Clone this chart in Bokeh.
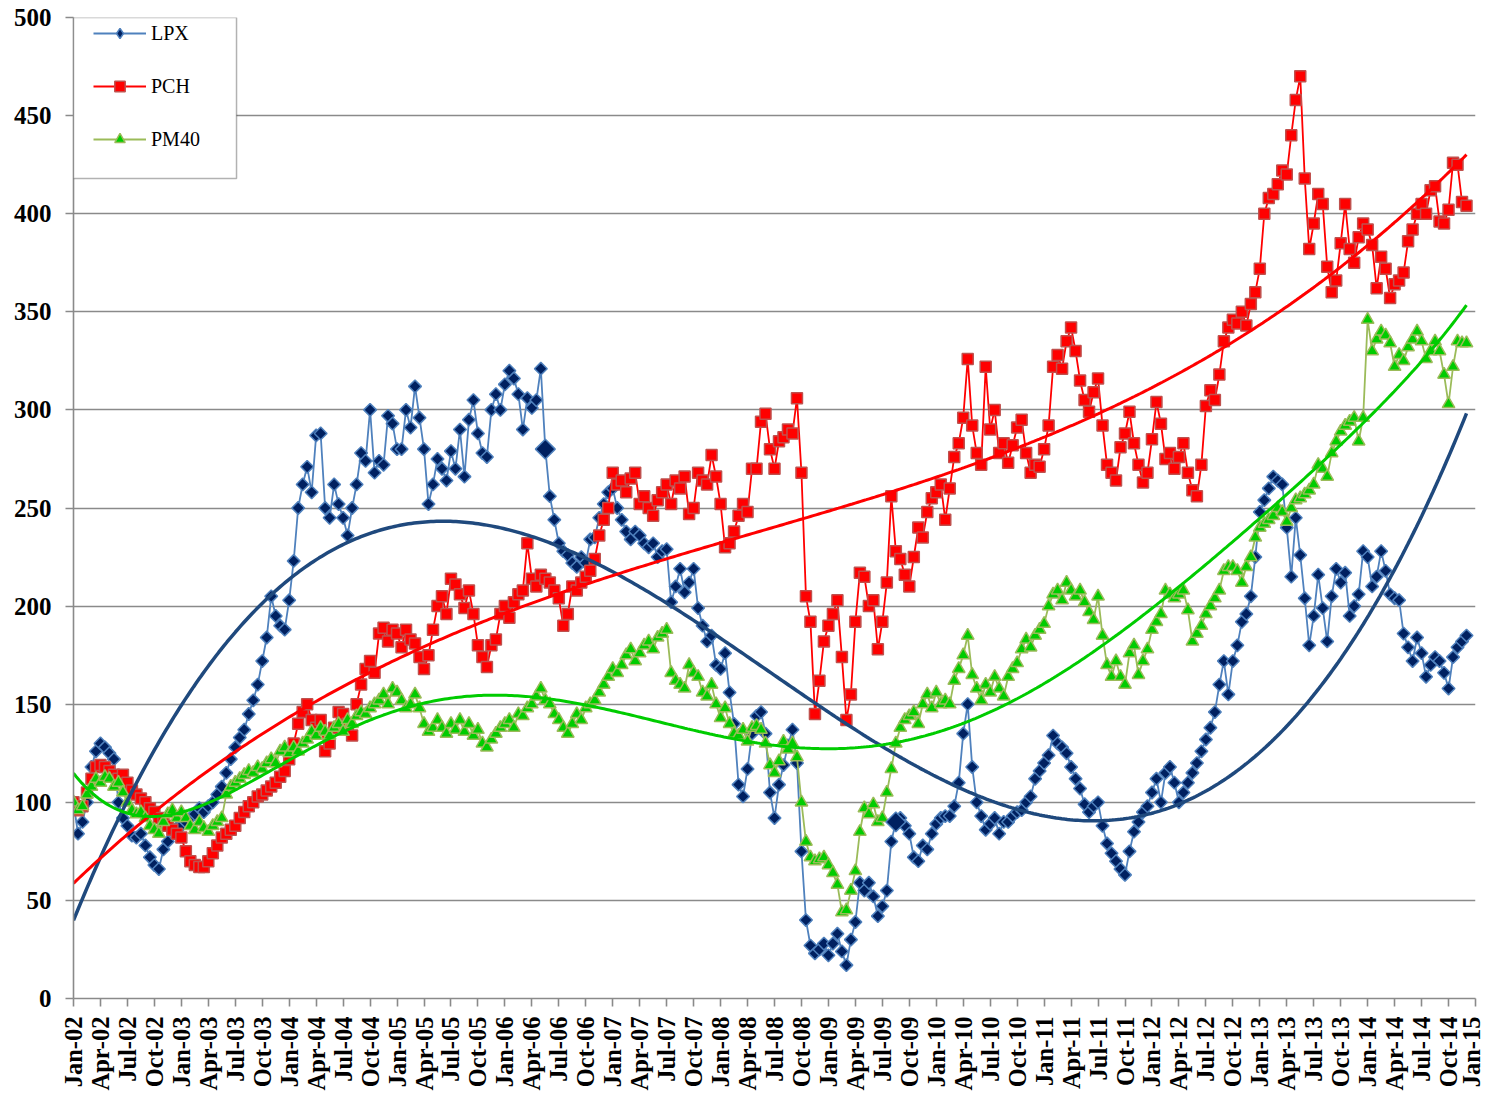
import math
import numpy as np
from bokeh.plotting import figure
from bokeh.models import (FixedTicker, Legend, LegendItem, BoxAnnotation,
                          ColumnDataSource, Range1d)
from bokeh.embed import file_html
from bokeh.resources import INLINE

# ---------------- data: semi-monthly readings, Jan-2002 .. Dec-2014 ----------------
lpx_2002 = [100, 84, 90, 100, 118, 126, 130, 128, 125, 122, 100, 92, 88, 83, 82, 84, 78, 72, 68, 66, 76, 80, 86, 87]
lpx_2003 = [88, 90, 92, 94, 97, 95, 98, 100, 104, 108, 115, 122, 128, 133, 137, 145, 152, 160, 172, 184, 205, 195, 190, 188]
lpx_2004 = [203, 223, 250, 262, 271, 258, 287, 288, 250, 245, 262, 252, 245, 236, 250, 262, 278, 274, 300, 268, 274, 272, 297, 293]
lpx_2005 = [280, 280, 300, 291, 312, 296, 280, 252, 262, 275, 270, 264, 279, 270, 290, 266, 295, 305, 288, 278, 276, 300, 308, 300]
lpx_2006 = [313, 320, 316, 308, 290, 306, 301, 305, 321, 280, 256, 244, 232, 228, 226, 222, 220, 225, 222, 234, 235, 245, 252, 258]
lpx_2007 = [260, 250, 244, 238, 234, 238, 236, 232, 230, 232, 225, 228, 229, 202, 210, 219, 207, 212, 219, 199, 190, 182, 185, 170]
lpx_2008 = [168, 176, 156, 140, 109, 103, 117, 135, 144, 146, 135, 105, 92, 109, 119, 129, 137, 120, 75, 40, 27, 23, 25, 28]
lpx_2009 = [22, 28, 33, 24, 17, 30, 39, 59, 55, 59, 52, 42, 47, 55, 80, 90, 92, 88, 84, 72, 70, 78, 76, 84]
lpx_2010 = [89, 92, 93, 93, 98, 110, 135, 150, 118, 100, 93, 86, 89, 92, 84, 90, 90, 93, 95, 96, 100, 103, 112, 116]
lpx_2011 = [120, 124, 134, 130, 128, 125, 118, 112, 107, 99, 95, 98, 100, 88, 79, 74, 70, 66, 63, 75, 85, 90, 95, 98]
lpx_2012 = [105, 112, 100, 115, 118, 110, 100, 105, 110, 115, 120, 126, 132, 138, 146, 160, 172, 155, 172, 180, 192, 196, 205, 225]
lpx_2013 = [248, 254, 260, 266, 264, 262, 240, 215, 245, 226, 204, 180, 195, 216, 199, 182, 205, 219, 212, 217, 195, 200, 206, 228]
lpx_2014 = [225, 210, 215, 228, 218, 206, 204, 203, 186, 179, 172, 184, 176, 164, 170, 174, 172, 166, 158, 174, 179, 182, 185]

pch_2002 = [100, 96, 98, 105, 112, 118, 119, 118, 116, 114, 112, 114, 110, 106, 104, 102, 100, 97, 95, 92, 90, 88, 86, 84]
pch_2003 = [82, 75, 70, 68, 67, 67, 70, 74, 78, 82, 84, 86, 88, 92, 95, 98, 100, 103, 104, 106, 108, 110, 113, 116]
pch_2004 = [122, 130, 140, 146, 150, 142, 138, 142, 126, 130, 138, 146, 145, 140, 134, 150, 160, 168, 172, 166, 186, 189, 182, 188]
pch_2005 = [186, 179, 188, 183, 181, 174, 168, 175, 188, 200, 205, 196, 214, 211, 206, 199, 208, 196, 180, 174, 169, 180, 183, 196]
pch_2006 = [200, 194, 202, 206, 208, 232, 214, 210, 216, 214, 212, 208, 204, 190, 196, 210, 208, 212, 215, 218, 224, 236, 244, 250]
pch_2007 = [268, 262, 264, 258, 265, 268, 252, 256, 250, 246, 254, 258, 262, 252, 264, 260, 266, 247, 250, 268, 264, 262, 277, 266]
pch_2008 = [252, 230, 232, 238, 246, 252, 248, 270, 270, 294, 298, 280, 270, 284, 286, 290, 288, 306, 268, 205, 192, 145, 162, 182]
pch_2009 = [190, 196, 203, 174, 142, 155, 192, 217, 215, 200, 203, 178, 192, 212, 256, 228, 224, 216, 210, 225, 240, 235, 248, 255]
pch_2010 = [258, 262, 244, 260, 276, 283, 296, 326, 292, 278, 272, 322, 290, 300, 278, 283, 273, 282, 291, 295, 278, 268, 272, 271]
pch_2011 = [280, 292, 322, 328, 321, 335, 342, 330, 315, 305, 299, 309, 316, 292, 272, 268, 264, 281, 288, 299, 283, 272, 263, 268]
pch_2012 = [285, 304, 293, 275, 278, 270, 276, 283, 268, 259, 256, 272, 302, 310, 305, 318, 335, 342, 346, 344, 350, 343, 354, 360]
pch_2013 = [372, 400, 408, 410, 415, 422, 420, 440, 458, 470, 418, 382, 395, 410, 405, 373, 360, 366, 385, 405, 382, 375, 388, 395]
pch_2014 = [392, 384, 362, 378, 372, 357, 364, 366, 370, 386, 392, 400, 405, 400, 412, 414, 396, 395, 402, 426, 425, 406, 404]

pm40_2002 = [100, 96, 98, 104, 108, 112, 110, 113, 112, 108, 110, 105, 100, 96, 94, 95, 92, 88, 86, 84, 90, 94, 96, 92]
pm40_2003 = [95, 92, 88, 86, 90, 87, 85, 88, 90, 92, 104, 108, 110, 112, 114, 116, 115, 118, 117, 120, 122, 120, 126, 128]
pm40_2004 = [125, 128, 126, 130, 132, 136, 134, 138, 136, 134, 138, 140, 136, 142, 140, 144, 146, 145, 148, 150, 152, 155, 150, 158]
pm40_2005 = [156, 152, 148, 150, 155, 148, 140, 136, 138, 142, 138, 135, 140, 137, 142, 136, 140, 134, 137, 130, 128, 132, 135, 138]
pm40_2006 = [140, 142, 138, 145, 144, 148, 150, 154, 158, 152, 150, 145, 142, 138, 135, 140, 145, 142, 148, 150, 152, 156, 160, 164]
pm40_2007 = [168, 166, 170, 175, 178, 172, 176, 180, 182, 178, 184, 186, 188, 166, 162, 160, 158, 170, 166, 164, 156, 154, 160, 150]
pm40_2008 = [143, 148, 140, 135, 134, 137, 131, 138, 139, 137, 130, 119, 115, 121, 131, 127, 130, 123, 100, 80, 72, 70, 71, 72]
pm40_2009 = [68, 64, 58, 44, 45, 55, 65, 85, 97, 94, 99, 90, 92, 105, 117, 130, 138, 142, 144, 146, 140, 150, 155, 148]
pm40_2010 = [156, 150, 152, 150, 162, 168, 175, 185, 165, 158, 152, 160, 156, 164, 158, 154, 164, 168, 171, 178, 183, 179, 185, 188]
pm40_2011 = [191, 200, 206, 208, 203, 212, 208, 205, 208, 202, 197, 193, 205, 185, 170, 164, 172, 164, 160, 176, 180, 165, 172, 178]
pm40_2012 = [188, 192, 196, 208, 206, 204, 206, 208, 198, 182, 186, 190, 196, 200, 204, 208, 218, 220, 220, 218, 212, 220, 225, 235]
pm40_2013 = [240, 242, 244, 246, 250, 248, 243, 250, 254, 255, 257, 259, 262, 272, 270, 266, 278, 284, 289, 292, 294, 296, 284, 296]
pm40_2014 = [346, 330, 336, 340, 338, 334, 322, 328, 325, 332, 336, 340, 335, 326, 330, 335, 330, 318, 303, 322, 335, 334, 334]

series_names = ["LPX", "PCH", "PM40"]
highlight_lpx = [105, 183]          # observations drawn with an enlarged marker
trend_degree = {"LPX": 3, "PCH": 3, "PM40": 6}

tick_labels = [f"{m}-{y:02d}" for y in range(2, 15) for m in ("Jan", "Apr", "Jul", "Oct")] + ["Jan-15"]
y_ticks = list(range(0, 501, 50))

lpx = sum([lpx_2002, lpx_2003, lpx_2004, lpx_2005, lpx_2006, lpx_2007, lpx_2008,
           lpx_2009, lpx_2010, lpx_2011, lpx_2012, lpx_2013, lpx_2014], [])
pch = sum([pch_2002, pch_2003, pch_2004, pch_2005, pch_2006, pch_2007, pch_2008,
           pch_2009, pch_2010, pch_2011, pch_2012, pch_2013, pch_2014], [])
pm40 = sum([pm40_2002, pm40_2003, pm40_2004, pm40_2005, pm40_2006, pm40_2007, pm40_2008,
            pm40_2009, pm40_2010, pm40_2011, pm40_2012, pm40_2013, pm40_2014], [])

t = np.arange(len(lpx)) / 2.0   # months since Jan-2002
x_ticks = [3 * i for i in range(len(tick_labels))]

# ---------------- figure ----------------
p = figure(width=1484, height=1096, output_backend="svg", toolbar_location=None,
           x_range=Range1d(0, 156), y_range=Range1d(0, 500),
           min_border_left=73, min_border_right=9, min_border_top=17, min_border_bottom=98)
p.outline_line_color = None
p.background_fill_color = "white"
p.border_fill_color = "white"

p.xgrid.grid_line_color = None
p.ygrid.ticker = FixedTicker(ticks=y_ticks)
p.ygrid.grid_line_color = "#8a8a8a"
p.ygrid.grid_line_width = 1.6

p.xaxis.ticker = FixedTicker(ticks=x_ticks)
p.xaxis.major_label_overrides = {k: lab for k, lab in zip(x_ticks, tick_labels)}
p.xaxis.major_label_orientation = math.pi / 2
p.yaxis.ticker = FixedTicker(ticks=y_ticks)

for ax in (p.xaxis[0], p.yaxis[0]):
    ax.axis_line_color = "#8a8a8a"
    ax.axis_line_width = 1.6
    ax.major_tick_line_color = "#8a8a8a"
    ax.major_tick_line_width = 1.6
    ax.minor_tick_line_color = None
    ax.major_tick_in = 0
    ax.major_tick_out = 8
    ax.major_label_text_font = "Liberation Serif"
    ax.major_label_text_font_style = "bold"
    ax.major_label_text_color = "black"
p.xaxis.major_label_text_font_size = "24.5px"
p.xaxis.major_label_standoff = 10
p.yaxis.major_label_text_font_size = "25px"
p.yaxis.major_label_standoff = 14

styles = {
    "LPX": dict(line="#4f81bd", marker="square", angle=math.pi / 4, size=9,
                fill="#002060", edge="#4f81bd", key="diamond"),
    "PCH": dict(line="#ff0000", marker="square", angle=0.0, size=11,
                fill="#ff0000", edge="#c0504d", key=None),
    "PM40": dict(line="#9bbb59", marker="triangle", angle=0.0, size=12.5,
                 fill="#00cc00", edge="#9bbb59", key=None),
}
trend_style = {"LPX": ("#1f497d", 3.5), "PCH": ("#ff0000", 3.0), "PM40": ("#00cc00", 3.0)}
values = {"LPX": lpx, "PCH": pch, "PM40": pm40}

items = []
for name in series_names:
    st = styles[name]
    src = ColumnDataSource(dict(t=t, v=values[name]))
    rl = p.line("t", "v", source=src, line_color=st["line"], line_width=1.8)
    rs = p.scatter("t", "v", source=src, marker=st["marker"], angle=st["angle"],
                   size=st["size"], fill_color=st["fill"], line_color=st["edge"],
                   line_width=1.5)
    if st["key"] is not None:
        # legend key with an upright diamond (the legend ignores marker rotation);
        # its single point is NaN, so nothing is drawn in the plot area
        key_src = ColumnDataSource(dict(t=np.array([np.nan]), v=np.array([np.nan])))
        rs = p.scatter("t", "v", source=key_src, marker=st["key"], size=12,
                       fill_color=st["fill"], line_color=st["edge"], line_width=1.5)
    items.append(LegendItem(label=name, renderers=[rl, rs]))

hl = ColumnDataSource(dict(t=[t[i] for i in highlight_lpx], v=[lpx[i] for i in highlight_lpx]))
p.scatter("t", "v", source=hl, marker="square", angle=math.pi / 4, size=14,
          fill_color="#002060", line_color="#4f81bd", line_width=1.5)

# polynomial trend lines (least squares, as in the spreadsheet chart)
scale = 156.0
tt = np.linspace(0, t[-1], 500)
for name in series_names:
    coef = np.polyfit(t / scale, np.array(values[name], dtype=float), trend_degree[name])
    col, w = trend_style[name]
    p.line(tt, np.polyval(coef, tt / scale), line_color=col, line_width=w)

# legend frame (white box with black border in the top-left corner of the plot area)
box = BoxAnnotation(right=18.14, bottom=417.9, fill_color="white", fill_alpha=1.0,
                    line_color="black", line_width=1.5)
p.add_layout(box)

legend = Legend(items=items, location=(20, 846), orientation="vertical",
                border_line_alpha=0, background_fill_alpha=0, padding=0, margin=0,
                spacing=27, glyph_width=53, glyph_height=26, label_height=26,
                label_standoff=5, label_text_font="Liberation Serif",
                label_text_font_size="20px", label_text_color="black")
p.add_layout(legend)

open("out.html", "w").write(file_html(p, INLINE))
